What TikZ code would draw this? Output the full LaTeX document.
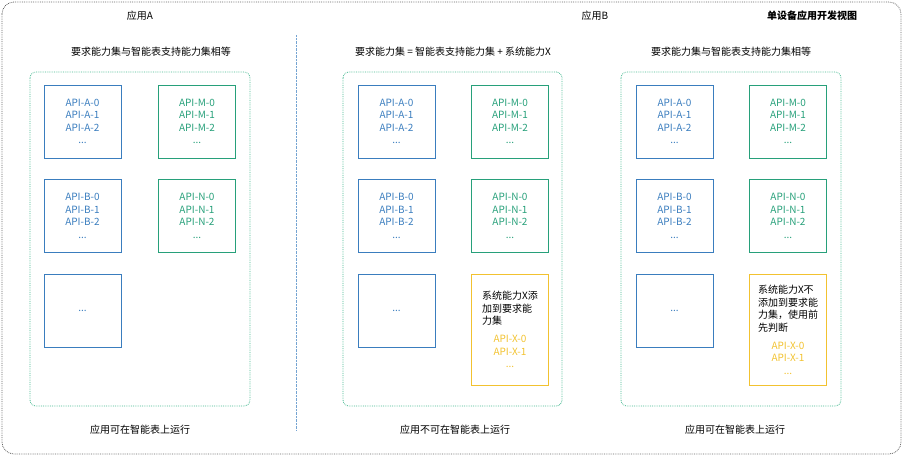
\documentclass[tikz,border=0pt]{standalone}
\usepackage{fontspec}
\setmainfont{Noto Sans CJK SC}
\usetikzlibrary{positioning}
\definecolor{apiblue}{HTML}{3A7DBE}
\definecolor{apigreen}{HTML}{27A07A}
\definecolor{apiyellow}{HTML}{F2C230}
\definecolor{setgreen}{HTML}{44B890}

\begin{document}
\begin{tikzpicture}[x=1pt,y=-1pt,font=\fontsize{10}{12.5}\selectfont,
  api node/.style={draw,thick,minimum width=77pt,minimum height=73pt,align=center,inner sep=2pt},
  blue node/.style={api node,draw=apiblue,text=apiblue},
  green node/.style={api node,draw=apigreen,text=apigreen},
  x node/.style={api node,draw=apiyellow,minimum height=111pt},
  set box/.style={draw=setgreen,densely dotted,thick,rounded corners=6pt},
  title/.style={font=\fontsize{10}{12.5}\selectfont}]

 \useasboundingbox (0,0) rectangle (903,456);
 \draw[gray!80!black,densely dotted,thick,rounded corners=12pt] (2,2) rectangle (901,454);
 \draw[apiblue!70,densely dotted] (296,35) -- (296,430);

 \node[title] (appA) at (140,16) {应用A};
 \node[title] (appB) at (595,16) {应用B};
 \node[title,font=\fontsize{10}{12.5}\selectfont\bfseries] (view) at (812,16) {单设备应用开发视图};

 % panel 1
 \node[title] (t1) at (151,52) {要求能力集与智能表支持能力集相等};
 \draw[set box] (30,72) rectangle (250,406);
 \node[blue node] (a1) at (82.5,121.5) {API-A-0\\API-A-1\\API-A-2\\...};
 \node[green node] (m1) at (197,121.5) {API-M-0\\API-M-1\\API-M-2\\...};
 \node[blue node] (b1) at (82.5,216) {API-B-0\\API-B-1\\API-B-2\\...};
 \node[green node] (n1) at (197,216) {API-N-0\\API-N-1\\API-N-2\\...};
 \node[blue node] (e1) at (82.5,310.5) {...};
 \node[title] (r1) at (140,430) {应用可在智能表上运行};

 % panel 2
 \node[title] (t2) at (453,52) {要求能力集 = 智能表支持能力集 + 系统能力X};
 \draw[set box] (343,72) rectangle (562,406);
 \node[blue node] (a2) at (396.5,121.5) {API-A-0\\API-A-1\\API-A-2\\...};
 \node[green node] (m2) at (510,121.5) {API-M-0\\API-M-1\\API-M-2\\...};
 \node[blue node] (b2) at (396.5,216) {API-B-0\\API-B-1\\API-B-2\\...};
 \node[green node] (n2) at (510,216) {API-N-0\\API-N-1\\API-N-2\\...};
 \node[blue node] (e2) at (396.5,310.5) {...};
 \node[x node] (x2) at (510,329.5) {\begin{tabular}{@{}l@{}}系统能力X添\\加到要求能\\力集\end{tabular}\\[6pt]
   \textcolor{apiyellow}{API-X-0}\\\textcolor{apiyellow}{API-X-1}\\\textcolor{apiyellow}{...}};
 \node[title] (r2) at (455,430) {应用不可在智能表上运行};

 % panel 3
 \node[title] (t3) at (731,52) {要求能力集与智能表支持能力集相等};
 \draw[set box] (621,72) rectangle (841,406);
 \node[blue node] (a3) at (674.5,121.5) {API-A-0\\API-A-1\\API-A-2\\...};
 \node[green node] (m3) at (788,121.5) {API-M-0\\API-M-1\\API-M-2\\...};
 \node[blue node] (b3) at (674.5,216) {API-B-0\\API-B-1\\API-B-2\\...};
 \node[green node] (n3) at (788,216) {API-N-0\\API-N-1\\API-N-2\\...};
 \node[blue node] (e3) at (674.5,310.5) {...};
 \node[x node] (x3) at (788,329.5) {\begin{tabular}{@{}l@{}}系统能力X不\\添加到要求能\\力集，使用前\\先判断\end{tabular}\\[6pt]
   \textcolor{apiyellow}{API-X-0}\\\textcolor{apiyellow}{API-X-1}\\\textcolor{apiyellow}{...}};
 \node[title] (r3) at (735,430) {应用可在智能表上运行};
\end{tikzpicture}
\end{document}
